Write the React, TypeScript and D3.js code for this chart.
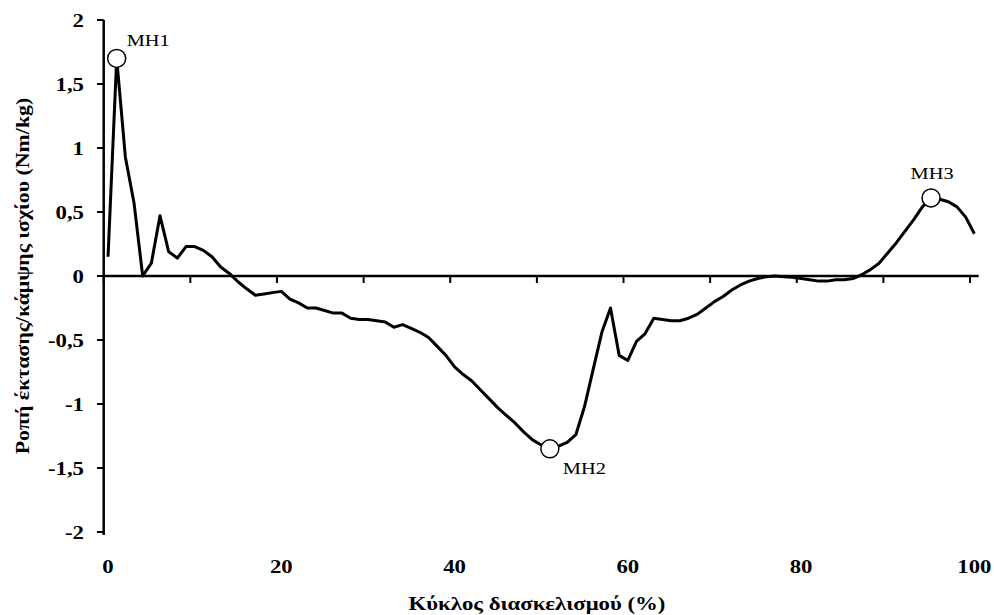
import React from 'react';
import * as d3 from 'd3';

// hip extension/flexion moment, one value per 1% of the gait cycle (0..100)
const moment = [
  0.15, 1.70, 0.93, 0.57, 0.0, 0.10, 0.47, 0.19, 0.14, 0.23,
  0.23, 0.20, 0.15, 0.07, 0.02, -0.045, -0.10, -0.15, -0.14, -0.13,
  -0.12, -0.18, -0.21, -0.25, -0.25, -0.27, -0.29, -0.29, -0.33, -0.34,
  -0.34, -0.35, -0.36, -0.40, -0.38, -0.41, -0.44, -0.48, -0.55, -0.62,
  -0.71, -0.77, -0.82, -0.89, -0.96, -1.03, -1.09, -1.15, -1.22, -1.28,
  -1.32, -1.35, -1.33, -1.30, -1.24, -1.02, -0.73, -0.44, -0.25, -0.62,
  -0.66, -0.51, -0.45, -0.33, -0.34, -0.35, -0.35, -0.33, -0.30, -0.25,
  -0.20, -0.16, -0.11, -0.07, -0.04, -0.02, -0.005, 0.0, -0.005, -0.01,
  -0.02, -0.03, -0.04, -0.04, -0.03, -0.03, -0.02, 0.01, 0.05, 0.10,
  0.18, 0.26, 0.35, 0.44, 0.54, 0.61, 0.60, 0.58, 0.54, 0.46,
  0.33,
];
const cycle = d3.range(0, 101);

const peaks = [
  { name: 'MH1', at: 1 },
  { name: 'MH2', at: 51 },
  { name: 'MH3', at: 95 },
];

const yTicks = [2, 1.5, 1, 0.5, 0, -0.5, -1, -1.5, -2];
const xTickMarks = d3.range(0, 101, 10);
const xTickLabels = d3.range(0, 101, 20);

const yTitle = 'Ροπή έκτασης/κάμψης ισχίου (Nm/kg)';
const xTitle = 'Κύκλος διασκελισμού (%)';

const W = 994;
const H = 615;
const font = "'Liberation Serif', 'Times New Roman', serif";

// the original's lettering is a little stretched along the baseline
const Label = ({ x, y, rotate = 0, stretch = 1.2, anchor = 'middle', size = 19, bold = true, children }: any) => (
  <g transform={`translate(${x},${y}) rotate(${rotate}) scale(${stretch},1)`}>
    <text textAnchor={anchor} fontSize={size} fontWeight={bold ? 'bold' : 'normal'} dy="0.35em">
      {children}
    </text>
  </g>
);

export default function App() {
  const x = d3.scaleBand<number>().domain(cycle).range([103.7, 978.7]).padding(0);
  const cx = (k: number) => (x(k) as number) + x.bandwidth() / 2;
  const y = d3.scaleLinear().domain([-2, 2]).range([532, 20]);

  const line = d3
    .line<number>()
    .x((_, i) => cx(cycle[i]))
    .y((d) => y(d));

  const fmt = (v: number) => String(v).replace('.', ',');

  const labelPos: Record<string, { dx: number; dy: number; anchor: string }> = {
    MH1: { dx: 10, dy: -18, anchor: 'start' },
    MH2: { dx: 13, dy: 19, anchor: 'start' },
    MH3: { dx: 1, dy: -25, anchor: 'middle' },
  };

  return (
    <svg
      width={W}
      height={H}
      style={{ position: 'absolute', left: 0, top: 0, background: '#fff' }}
      fontFamily={font}
    >
      {/* y axis */}
      <line x1={103.7} x2={103.7} y1={y(2)} y2={y(-2) + 3} stroke="#000" strokeWidth={2.5} />
      {yTicks.map((t) => (
        <g key={t}>
          <line x1={97} x2={103.7} y1={y(t)} y2={y(t)} stroke="#000" strokeWidth={2} />
          <Label x={84} y={y(t)} anchor="end">
            {fmt(t)}
          </Label>
        </g>
      ))}

      {/* x axis on zero line */}
      <line x1={103.7} x2={978.7} y1={y(0)} y2={y(0)} stroke="#000" strokeWidth={2.5} />
      {xTickMarks.map((t) => (
        <line
          key={t}
          x1={x(t) as number}
          x2={x(t) as number}
          y1={y(0)}
          y2={y(0) + 7}
          stroke="#000"
          strokeWidth={2}
        />
      ))}
      {xTickLabels.map((t) => (
        <Label key={t} x={cx(t)} y={566}>
          {t}
        </Label>
      ))}

      {/* curve */}
      <path d={line(moment) || ''} fill="none" stroke="#000" strokeWidth={3} strokeLinejoin="round" />

      {/* peak markers */}
      {peaks.map((p) => {
        const px = cx(p.at);
        const py = y(moment[p.at]);
        const lp = labelPos[p.name];
        return (
          <g key={p.name}>
            <circle cx={px} cy={py} r={9} fill="#fff" stroke="#000" strokeWidth={1.5} />
            <Label x={px + lp.dx} y={py + lp.dy} anchor={lp.anchor} size={17} bold={false}>
              {p.name}
            </Label>
          </g>
        );
      })}

      {/* axis titles */}
      <Label x={22} y={276} rotate={-90} stretch={1.15}>
        {yTitle}
      </Label>
      <Label x={537} y={603}>
        {xTitle}
      </Label>
    </svg>
  );
}
